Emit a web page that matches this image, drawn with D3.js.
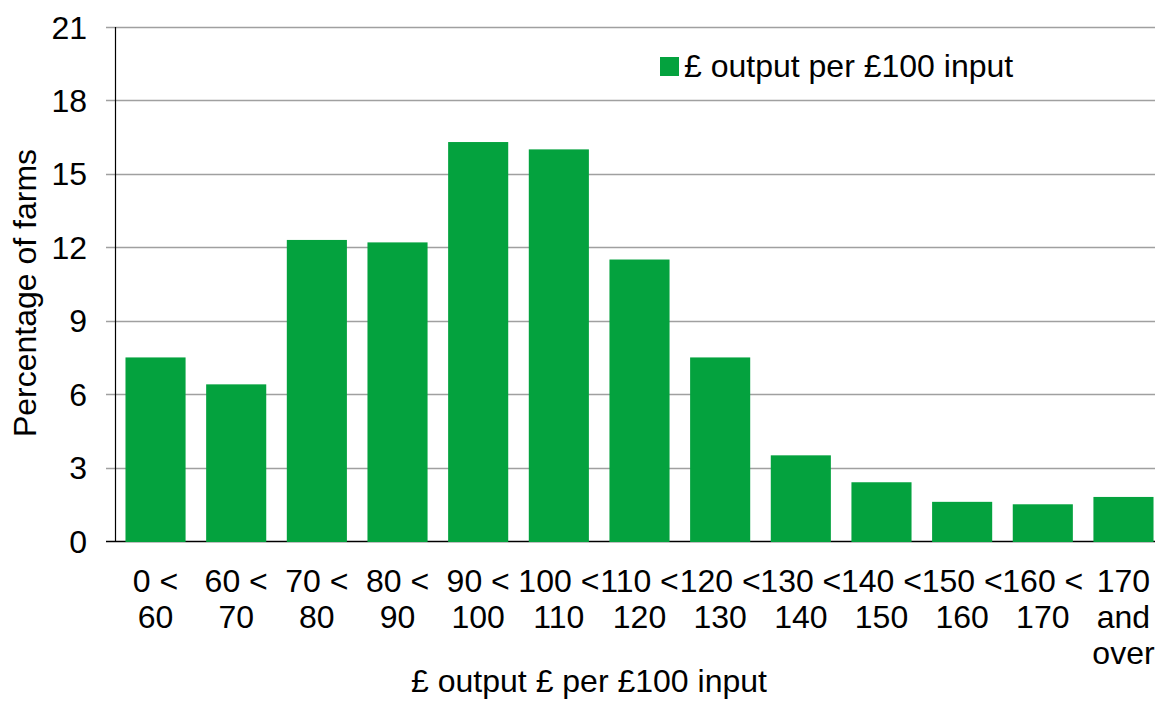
<html lang="en">
<head>
    <title>Output per input</title>
    <script src="https://d3js.org/d3.v7.min.js" charset="utf-8"></script>
    <style>
        body { margin: 0; font-family: "Liberation Sans", Arial, sans-serif; background: #fff; }
        text { fill: #000; }
    </style>
</head>
<body>
<script>
    // chart data
    var categories = [
        ["0 <", "60"], ["60 <", "70"], ["70 <", "80"], ["80 <", "90"], ["90 <", "100"],
        ["100 <", "110"], ["110 <", "120"], ["120 <", "130"], ["130 <", "140"], ["140 <", "150"],
        ["150 <", "160"], ["160 <", "170"], ["170", "and", "over"]
    ];
    var values = [7.5, 6.4, 12.3, 12.2, 16.3, 16.0, 11.5, 7.5, 3.5, 2.4, 1.6, 1.5, 1.8];
    var yTicks = [0, 3, 6, 9, 12, 15, 18, 21];
    var seriesName = "£ output per £100 input";

    var width = 1155, height = 702;
    var plotLeft = 115, plotRight = 1164, plotTop = 27, plotBottom = 541;
    var fs = "32px";

    var svg = d3.select("body").append("svg")
        .attr("width", width)
        .attr("height", height);

    var x = d3.scaleBand()
        .domain(d3.range(categories.length))
        .range([plotLeft, plotRight])
        .paddingInner(0.255)
        .paddingOuter(0.13);

    var y = d3.scaleLinear()
        .domain([0, 21])
        .range([plotBottom, plotTop]);

    // gridlines + y ticks
    svg.append("g")
        .selectAll("line")
        .data(yTicks)
        .enter().append("line")
        .attr("x1", plotLeft - 9)
        .attr("x2", width)
        .attr("y1", function(d) { return Math.round(y(d)) + 0.5; })
        .attr("y2", function(d) { return Math.round(y(d)) + 0.5; })
        .attr("stroke", function(d) { return d === 0 ? "#000" : "#a0a0a0"; })
        .attr("stroke-width", 1.3);

    svg.append("g")
        .selectAll("text")
        .data(yTicks)
        .enter().append("text")
        .attr("x", plotLeft - 28)
        .attr("y", function(d) { return y(d) + 11.5; })
        .attr("text-anchor", "end")
        .style("font-size", fs)
        .text(function(d) { return d; });

    // bars
    svg.append("g")
        .selectAll("rect")
        .data(values)
        .enter().append("rect")
        .attr("x", function(d, i) { return x(i); })
        .attr("y", function(d) { return y(d); })
        .attr("width", x.bandwidth())
        .attr("height", function(d) { return plotBottom + 1 - y(d); })
        .attr("fill", "#04a23e");

    // y axis line
    svg.append("line")
        .attr("x1", plotLeft + 0.5).attr("x2", plotLeft + 0.5)
        .attr("y1", plotTop).attr("y2", plotBottom + 1)
        .attr("stroke", "#000")
        .attr("stroke-width", 1.2);

    // x labels
    var xl = svg.append("g")
        .selectAll("text")
        .data(categories)
        .enter().append("text")
        .attr("text-anchor", "middle")
        .style("font-size", fs)
        .attr("transform", function(d, i) {
            return "translate(" + (x(i) + x.bandwidth() / 2) + ",592)";
        });
    xl.selectAll("tspan")
        .data(function(d) { return d; })
        .enter().append("tspan")
        .attr("x", 0)
        .attr("y", function(d, j) { return j * 36; })
        .text(function(d) { return d; });

    // axis titles
    svg.append("text")
        .attr("x", 589).attr("y", 692)
        .attr("text-anchor", "middle")
        .style("font-size", fs)
        .text("£ output £ per £100 input");

    svg.append("text")
        .attr("transform", "translate(36,293) rotate(-90)")
        .attr("text-anchor", "middle")
        .style("font-size", fs)
        .text("Percentage of farms");

    // legend
    svg.append("rect")
        .attr("x", 660).attr("y", 57)
        .attr("width", 19).attr("height", 19)
        .attr("fill", "#04a23e");
    svg.append("text")
        .attr("x", 684).attr("y", 77)
        .style("font-size", fs)
        .text(seriesName);
</script>
</body>
</html>
